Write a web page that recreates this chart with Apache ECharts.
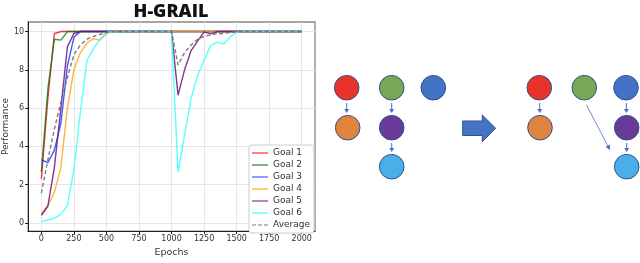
<!DOCTYPE html>
<html><head><meta charset="utf-8">
<script src="https://cdn.jsdelivr.net/npm/echarts@6/dist/echarts.min.js"></script>
<style>html,body{margin:0;padding:0;background:#fff}#c{width:640px;height:263px}</style>
</head><body><div id="c"></div>
<script>
const epochs = [0,50,100,150,200,250,300,350,400,450,500,550,600,650,700,750,800,850,900,950,1000,1050,1100,1150,1200,1250,1300,1350,1400,1450,1500,1550,1600,1650,1700,1750,1800,1850,1900,1950,2000];
const goal1 = [2.3,6.5,9.9,10,10,10,10,10,10,10, 10,10,10,10,10,10,10,10,10,10, 10,10,10,10,10,10,10,10,10,10, 10,10,10,10,10,10,10,10,10,10, 10];
const goal2 = [2.65,7.0,9.6,9.55,10,10,10,10,10,10, 10,10,10,10,10,10,10,10,10,10, 10,10,10,10,10,10,10,10,10,10, 10,10,10,10,10,10,10,10,10,10, 10];
const goal3 = [3.3,3.15,3.8,5.2,8.2,9.7,10,10,10,10, 10,10,10,10,10,10,10,10,10,10, 10,10,10,10,10,10,10,10,10,10, 10,10,10,10,10,10,10,10,10,10, 10];
const goal4 = [0.5,0.9,1.6,2.9,6.0,8.0,8.9,9.4,9.63,9.55, 9.9,10,10,10,10,10,10,10,10,10, 10,10,10,10,10,10,10,10,10,10, 10,10,10,10,10,10,10,10,10,10, 10];
const goal5 = [0.4,0.87,2.9,6.0,9.2,9.9,10,10,10,10, 10,10,10,10,10,10,10,10,10,10, 10,6.68,8.0,9.0,9.5,9.98,9.88,10,10,10, 10,10,10,10,10,10,10,10,10,10, 10];
const goal6 = [0.05,0.15,0.25,0.44,0.9,2.8,5.8,8.5,9.1,9.6, 9.95,10,9.97,10,10,10,9.97,10,10,10, 10,2.65,4.6,6.5,7.7,8.5,9.25,9.45,9.35,9.7, 9.97,10,10,10,10,10,10,10,10,10, 10];
const average = [1.55,3.3,4.9,6.3,7.6,8.8,9.3,9.6,9.75,9.85, 9.95,10,9.99,10,10,10,9.99,10,10,10, 10,8.25,8.9,9.3,9.6,9.75,9.82,9.9,9.9,9.95, 10,10,10,10,10,10,10,10,10,10, 10];
const seriesNames = ['Goal 1','Goal 2','Goal 3','Goal 4','Goal 5','Goal 6','Average'];
const xTicks = [0,250,500,750,1000,1250,1500,1750,2000];
const yTicks = [0,2,4,6,8,10];
const title = 'H-GRAIL';

const allSeries = [goal1,goal2,goal3,goal4,goal5,goal6,average];
const colors = ['rgba(240,20,20,0.85)','rgba(20,120,20,0.8)','rgba(20,50,255,0.8)','rgba(255,160,20,0.8)','rgba(110,20,120,0.85)','rgba(60,255,255,0.85)','rgba(110,110,110,0.9)'];
const legendColors = ['#f55','#5a9a5a','#7777ff','#ffbb55','#a060a8','#66ffff','#777'];

// diagram (illustration, not data)
const nodesLeft = [['#E8322A',346.7,87.7],['#E0843E',347.7,127.7],['#78A855',391.7,87.7],['#6A3A98',391.7,127.7],['#4BAEE8',391.7,166.7],['#4472C4',433.3,87.7]];
const nodesRight = [['#E8322A',539.3,87.7],['#E0843E',540,127.7],['#78A855',584.3,87.7],['#4472C4',626,87.7],['#6A3A98',626.7,127.7],['#4BAEE8',626.7,166.7]];
const smallArrows = [[346.7,103,113],[391.7,103,113],[391.7,143,152],[539.7,103,113],[626.4,103,113],[626.7,143,152]];

const graphics = [];
const R = 12.3;
nodesLeft.concat(nodesRight).forEach(n=>{
  graphics.push({type:'circle',shape:{cx:n[1],cy:n[2],r:R},style:{fill:n[0],stroke:'#2F528F',lineWidth:1}});
});
smallArrows.forEach(a=>{
  graphics.push({type:'line',shape:{x1:a[0],y1:a[1],x2:a[0],y2:a[2]-3},style:{stroke:'#4472C4',lineWidth:1}});
  graphics.push({type:'polygon',shape:{points:[[a[0]-2.5,a[2]-4],[a[0]+2.5,a[2]-4],[a[0],a[2]]]},style:{fill:'#4472C4'}});
});
(function(){
  const x1=586.5,y1=105,x2=610,y2=150;
  const ang=Math.atan2(y2-y1,x2-x1);
  const hl=5, hw=2.5;
  const bx=x2-hl*Math.cos(ang), by=y2-hl*Math.sin(ang);
  graphics.push({type:'line',shape:{x1:x1,y1:y1,x2:bx,y2:by},style:{stroke:'#4472C4',lineWidth:0.8}});
  graphics.push({type:'polygon',shape:{points:[[x2,y2],[bx+hw*Math.sin(ang),by-hw*Math.cos(ang)],[bx-hw*Math.sin(ang),by+hw*Math.cos(ang)]]},style:{fill:'#4472C4'}});
})();
graphics.push({type:'polygon',shape:{points:[[462.7,121],[482.3,121],[482.3,115],[495.7,128.3],[482.3,141.7],[482.3,135.5],[462.7,135.5]]},style:{fill:'#4472C4',stroke:'#2F528F',lineWidth:1}});

const solidIcon = 'path://M0 0L0 0Z M0 4.3H16V5.7H0Z M16 10L16 10Z';
const dashIcon = 'path://M0 0L0 0Z M0 4.4H4V5.6H0Z M6 4.4H10V5.6H6Z M12 4.4H16V5.6H12Z M16 10L16 10Z';

const chart = echarts.init(document.getElementById('c'),null,{renderer:'canvas'});
chart.setOption({
  animation:false,
  backgroundColor:'#fff',
  title:{text:title,left:166,top:-2,textAlign:'center',textStyle:{fontFamily:'Open Sans',fontWeight:800,fontSize:18,color:'#111'}},
  grid:{left:27,top:22,right:325,bottom:27,show:true,borderColor:'#888',borderWidth:1.3,backgroundColor:'#fff'},
  legend:{data:seriesNames.map((n,i)=>({name:n,icon:i===6?dashIcon:solidIcon,itemStyle:{color:legendColors[i]}})),
    orient:'vertical',left:249,top:145,itemWidth:16,itemHeight:10,itemGap:2,
    padding:[3,4,3,3],backgroundColor:'#fff',borderColor:'#ccc',borderWidth:1,borderRadius:3,
    textStyle:{fontFamily:'DejaVu Sans',fontSize:9,color:'#333'}},
  xAxis:{type:'value',min:-102,max:2102,name:'Epochs',nameLocation:'middle',nameGap:16,
    nameTextStyle:{fontFamily:'DejaVu Sans',fontSize:9.5,color:'#333'},
    axisLine:{show:true,onZero:false,lineStyle:{color:'#222',width:1}},
    axisTick:{show:true,length:3,customValues:xTicks,lineStyle:{color:'#222'}},
    axisLabel:{customValues:xTicks,formatter:v=>String(v),fontFamily:'DejaVu Sans',fontSize:8,color:'#333',margin:4},
    splitLine:{show:true,lineStyle:{color:'#e6e6e6',width:1}}},
  yAxis:{type:'value',min:-0.43,max:10.5,name:'Performance',nameLocation:'middle',nameGap:18,nameRotate:90,
    nameTextStyle:{fontFamily:'DejaVu Sans',fontSize:9,color:'#333'},
    axisLine:{show:true,onZero:false,lineStyle:{color:'#222',width:1}},
    axisTick:{show:true,length:3,customValues:yTicks,lineStyle:{color:'#222'}},
    axisLabel:{customValues:yTicks,formatter:v=>String(v),fontFamily:'DejaVu Sans',fontSize:8,color:'#333',margin:4},
    splitLine:{show:true,lineStyle:{color:'#e6e6e6',width:1}}},
  series: allSeries.map((arr,i)=>({
    name:seriesNames[i],type:'line',symbol:'none',
    data:epochs.map((e,j)=>[e,arr[j]]),
    lineStyle:{color:colors[i],width:1.4,type:i===6?[4,2.5]:'solid'},
    itemStyle:{color:colors[i]},
    z:2+i
  })),
  graphic:graphics
});
</script></body></html>
